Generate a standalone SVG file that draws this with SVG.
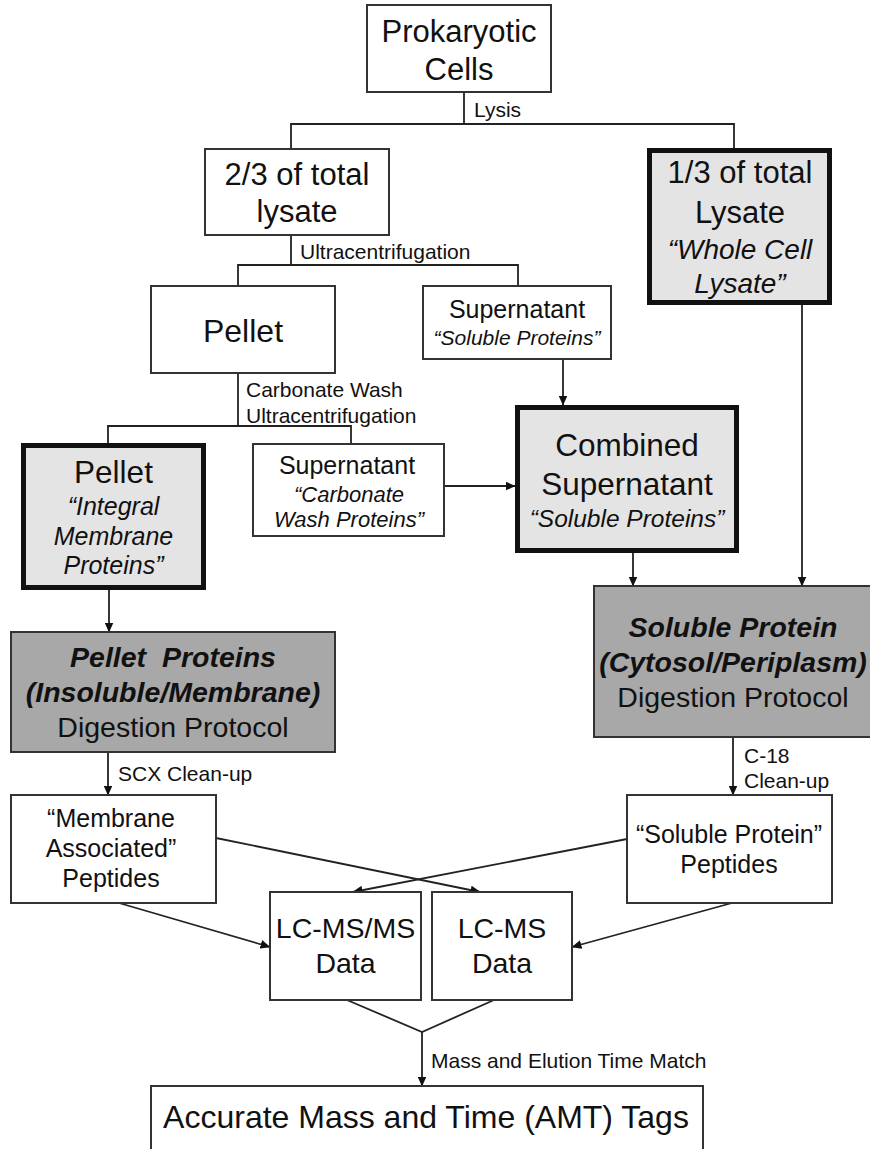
<svg xmlns="http://www.w3.org/2000/svg" width="870" height="1149" viewBox="0 0 870 1149">
<style>
text{font-family:"Liberation Sans",Arial,Helvetica,sans-serif;fill:#111;text-anchor:middle}
.box{fill:#fff;stroke:#333;stroke-width:2}
.thick{fill:#e4e4e4;stroke:#111;stroke-width:5}
.dark{fill:#a8a8a8;stroke:#333;stroke-width:2}
.conn{fill:none;stroke:#222;stroke-width:1.8}
.lbl{font-size:21px;text-anchor:start}
.big{font-size:31px}
.it{font-style:italic}
.bi{font-style:italic;font-weight:bold}
.pre{white-space:pre}
</style>
<defs>
<marker id="ah" markerUnits="userSpaceOnUse" markerWidth="10" markerHeight="9" refX="9.5" refY="4.5" orient="auto">
<path d="M0,0 L10,4.5 L0,9 Z" fill="#111"/>
</marker>
</defs>
<rect width="870" height="1149" fill="#fff"/>

<g id="connectors">
<path class="conn" d="M464,92 V124 M291,148 V124 H734 V148"/>
<path class="conn" d="M291,235 V265 M238,286 V265 H518 V286"/>
<path class="conn" d="M238,373 V426 M108,443 V426 H351 V444"/>
<path class="conn" d="M563,359 V405" marker-end="url(#ah)"/>
<path class="conn" d="M444,486 H515" marker-end="url(#ah)"/>
<path class="conn" d="M802,305 V586" marker-end="url(#ah)"/>
<path class="conn" d="M633,553 V586" marker-end="url(#ah)"/>
<path class="conn" d="M109,590 V632" marker-end="url(#ah)"/>
<path class="conn" d="M108,752 V795" marker-end="url(#ah)"/>
<path class="conn" d="M733,737 V795" marker-end="url(#ah)"/>
<path class="conn" d="M216,838 L480,892" marker-end="url(#ah)"/>
<path class="conn" d="M627,839 L353,892" marker-end="url(#ah)"/>
<path class="conn" d="M119,903 L270,947" marker-end="url(#ah)"/>
<path class="conn" d="M732,903 L572,947" marker-end="url(#ah)"/>
<path class="conn" d="M347,1000 L422,1032 L494,1000"/>
<path class="conn" d="M422,1032 V1086" marker-end="url(#ah)"/>
<text class="lbl" x="474" y="117">Lysis</text>
<text class="lbl" x="300" y="259">Ultracentrifugation</text>
<text class="lbl" x="246" y="397">Carbonate Wash</text>
<text class="lbl" x="246" y="423">Ultracentrifugation</text>
<text class="lbl" x="118" y="781">SCX Clean-up</text>
<text class="lbl" x="744" y="763">C-18</text>
<text class="lbl" x="744" y="788">Clean-up</text>
<text class="lbl" x="431" y="1068">Mass and Elution Time Match</text>
</g>

<g id="prokaryotic">
<rect class="box" x="367" y="5" width="184" height="87"/>
<text class="big" x="459" y="42" font-size="32">Prokaryotic</text>
<text class="big" x="459" y="80">Cells</text>
</g>

<g id="two-thirds">
<rect class="box" x="205" y="149" width="184" height="86"/>
<text class="big" x="297" y="185">2/3 of total</text>
<text class="big" x="297" y="222">lysate</text>
</g>

<g id="one-third">
<rect class="thick" x="649.5" y="150.5" width="180" height="152"/>
<text class="big" x="740" y="183">1/3 of total</text>
<text class="big" x="740" y="223">Lysate</text>
<text class="it" x="740" y="259" font-size="28">“Whole Cell</text>
<text class="it" x="740" y="293" font-size="28">Lysate”</text>
</g>

<g id="pellet1">
<rect class="box" x="151" y="286" width="184" height="87"/>
<text x="243" y="342" font-size="32">Pellet</text>
</g>

<g id="supernatant1">
<rect class="box" x="423" y="286" width="188" height="73"/>
<text x="517" y="318" font-size="25">Supernatant</text>
<text class="it" x="517" y="345" font-size="21">“Soluble Proteins”</text>
</g>

<g id="pellet2">
<rect class="thick" x="23.5" y="445.5" width="180" height="142"/>
<text x="113.5" y="483" font-size="31.5">Pellet</text>
<text class="it" x="113.5" y="515" font-size="25">“Integral</text>
<text class="it" x="113.5" y="545" font-size="25">Membrane</text>
<text class="it" x="113.5" y="574" font-size="25">Proteins”</text>
</g>

<g id="supernatant2">
<rect class="box" x="253" y="444" width="191" height="92"/>
<text x="347" y="474" font-size="25">Supernatant</text>
<text class="it" x="349" y="502" font-size="22">“Carbonate</text>
<text class="it" x="349" y="527" font-size="22">Wash Proteins”</text>
</g>

<g id="combined">
<rect class="thick" x="517.5" y="407.5" width="219" height="143"/>
<text x="627" y="456" font-size="31.5">Combined</text>
<text x="627" y="495" font-size="31.5">Supernatant</text>
<text class="it" x="627" y="527" font-size="24.5">“Soluble Proteins”</text>
</g>

<g id="pellet-proteins">
<rect class="dark" x="11" y="632" width="324" height="120"/>
<text class="bi pre" x="173" y="667" font-size="28.5" xml:space="preserve">Pellet  Proteins</text>
<text class="bi" x="173" y="702" font-size="28.5">(Insoluble/Membrane)</text>
<text x="173" y="737" font-size="28.5">Digestion Protocol</text>
</g>

<g id="soluble-protein">
<rect class="dark" x="594" y="586" width="280" height="151"/>
<text class="bi" x="733" y="637" font-size="28.5">Soluble Protein</text>
<text class="bi" x="733" y="672" font-size="28.5">(Cytosol/Periplasm)</text>
<text x="733" y="707" font-size="28.5">Digestion Protocol</text>
</g>

<g id="membrane-peptides">
<rect class="box" x="11" y="795" width="205" height="108"/>
<text x="111" y="827" font-size="25">“Membrane</text>
<text x="111" y="857" font-size="25">Associated”</text>
<text x="111" y="887" font-size="25">Peptides</text>
</g>

<g id="soluble-peptides">
<rect class="box" x="627" y="795" width="205" height="108"/>
<text x="729" y="843" font-size="25">“Soluble Protein”</text>
<text x="729" y="873" font-size="25">Peptides</text>
</g>

<g id="lcmsms">
<rect class="box" x="270" y="892" width="151" height="108"/>
<text x="345.5" y="938" font-size="28.5">LC-MS/MS</text>
<text x="345.5" y="973" font-size="28.5">Data</text>
</g>

<g id="lcms">
<rect class="box" x="432" y="892" width="140" height="108"/>
<text x="502" y="938" font-size="28.5">LC-MS</text>
<text x="502" y="973" font-size="28.5">Data</text>
</g>

<g id="amt">
<rect class="box" x="151" y="1086" width="552" height="80"/>
<text x="426" y="1128" font-size="32">Accurate Mass and Time (AMT) Tags</text>
</g>
</svg>
